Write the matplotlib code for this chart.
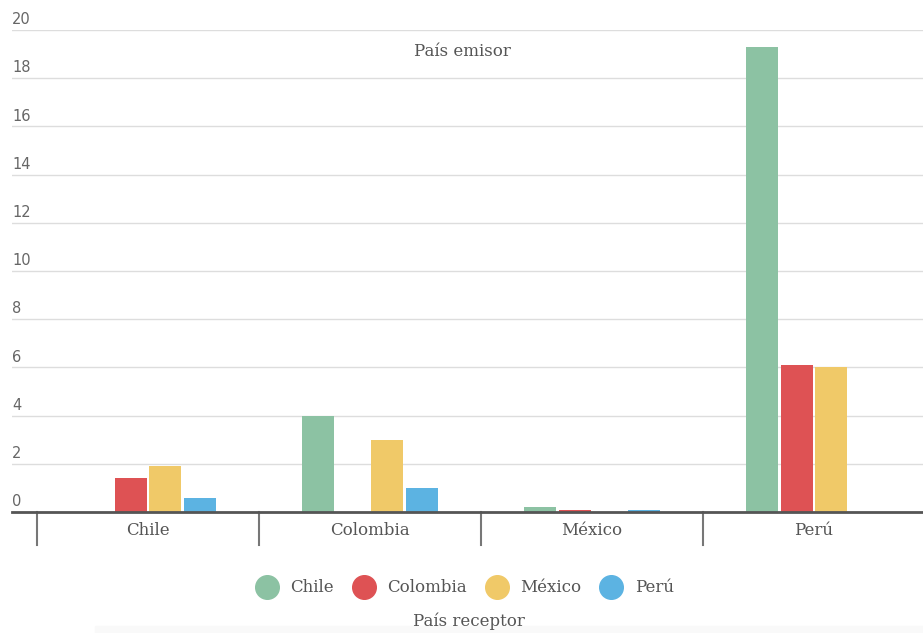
import matplotlib.pyplot as plt
import matplotlib.patches as mpatches
import numpy as np

# receiving countries (x groups) and sending countries (series)
receptores = ["Chile", "Colombia", "México", "Perú"]
emisores = ["Chile", "Colombia", "México", "Perú"]

chile = [0, 4.0, 0.2, 19.3]
colombia = [1.4, 0, 0.1, 6.1]
mexico = [1.9, 3.0, 0, 6.0]
peru = [0.6, 1.0, 0.1, 0]

colores = ["#8cc2a3", "#de5254", "#f0c968", "#5cb3e2"]
yticks = [0, 2, 4, 6, 8, 10, 12, 14, 16, 18, 20]

txt = "#555555"
serif = ["DejaVu Serif"]

fig = plt.figure(figsize=(9.23, 6.33), dpi=100)
ax = fig.add_axes([12 / 923, 121 / 633, 911 / 923, 482 / 633])

x = np.arange(len(receptores))
series = [chile, colombia, mexico, peru]
step = 0.156
width = 0.144
for i, vals in enumerate(series):
    ax.bar(x + (i - 1.5) * step, vals, width, color=colores[i],
           label=emisores[i], zorder=3)

ax.set_xlim(-0.6126, 3.491)
ax.set_ylim(0, 20)

# gridlines and y labels sitting on top of them
ax.set_yticks(yticks)
ax.set_yticklabels([])
ax.tick_params(axis="y", length=0)
ax.grid(axis="y", color="#dddddd", linewidth=1, zorder=0)
for v in yticks:
    ax.text(0, v + 0.12, str(v), transform=ax.get_yaxis_transform(),
            ha="left", va="bottom", fontsize=10.5, color="#666666",
            family=["DejaVu Sans"])

for s in ["top", "right", "left"]:
    ax.spines[s].set_visible(False)
ax.spines["bottom"].set_color("#555555")
ax.spines["bottom"].set_linewidth(2)
ax.spines["bottom"].set_zorder(4)

# category labels and group separators
ax.set_xticks(x)
ax.set_xticklabels(receptores, fontsize=12, color=txt, family=serif)
ax.tick_params(axis="x", length=0, pad=7)
for b in [-0.5, 0.5, 1.5, 2.5]:
    ax.plot([b, b], [0, -1.35], color="#777777", linewidth=1.5,
            clip_on=False, zorder=4)

ax.text((462 - 12) / 911, 0.955, "País emisor", transform=ax.transAxes,
        ha="center", va="center", fontsize=12, color=txt, family=serif)

handles = [plt.Line2D([], [], marker="o", linestyle="", markersize=17,
                      color=c, label=n) for c, n in zip(colores, emisores)]
fig.legend(handles=handles, loc="center", bbox_to_anchor=(462 / 923, 1 - 588 / 633),
           ncol=4, frameon=False, prop={"family": serif, "size": 12},
           labelcolor=txt, handletextpad=0.4, columnspacing=0.8)

fig.patches.append(mpatches.Rectangle((95 / 923, 0), 1, 7 / 633,
                                      transform=fig.transFigure,
                                      color="#f9f9f9", zorder=0))
fig.text(469 / 923, 1 - 621 / 633, "País receptor", ha="center", va="center",
         fontsize=12, color=txt, family=serif)

fig.savefig("out.png", dpi=100)
